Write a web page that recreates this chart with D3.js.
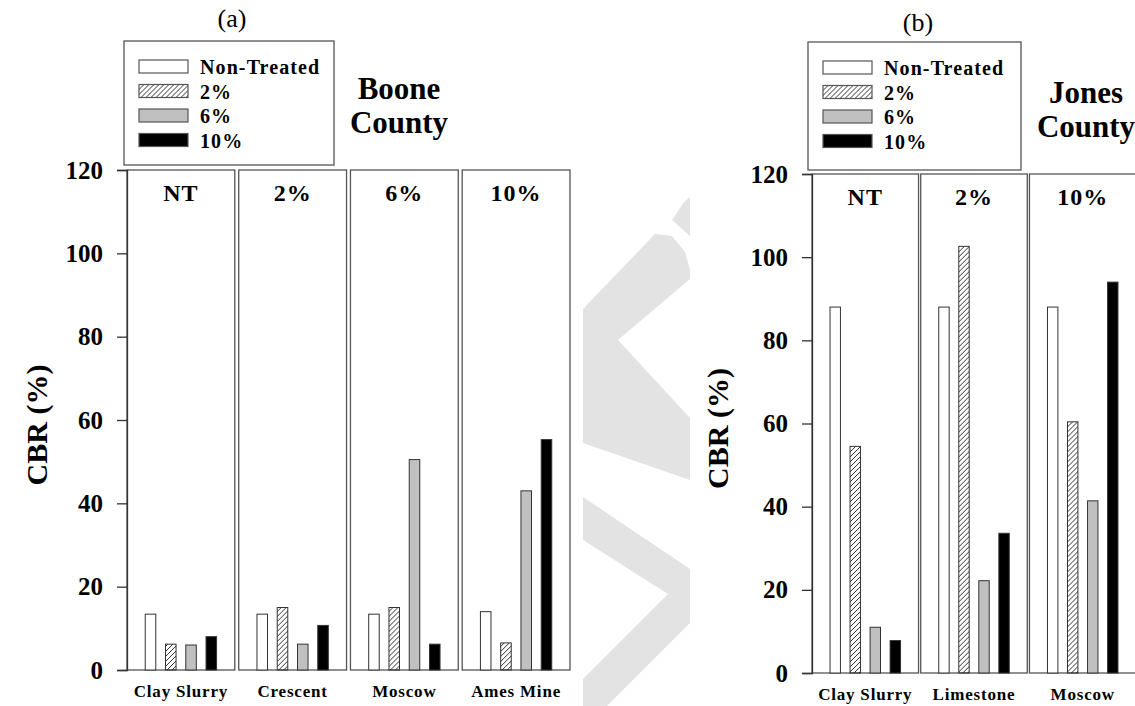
<!DOCTYPE html>
<html>
<head>
<meta charset="utf-8">
<script src="https://d3js.org/d3.v7.min.js"></script>
<style>
  body { margin: 0; background: #fff; }
  svg { display: block; }
  text { font-family: "Liberation Serif", "Times New Roman", serif; fill: #000; }
</style>
</head>
<body>
<svg id="chart" width="1135" height="706"></svg>
<script>
// treatments (series) and tick values
const treatments = ["Non-Treated", "2%", "6%", "10%"];
const yTicks = [0, 20, 40, 60, 80, 100, 120];

// (a) Boone County
const booneSoils = ["Clay Slurry", "Crescent", "Moscow", "Ames Mine"];
const booneBoxes = ["NT", "2%", "6%", "10%"];
const booneNT  = [13.4, 13.4, 13.4, 14.0];
const boone2   = [6.2, 15.0, 15.0, 6.5];
const boone6   = [6.0, 6.2, 50.5, 43.0];
const boone10  = [8.0, 10.7, 6.2, 55.3];

// (b) Jones County
const jonesSoils = ["Clay Slurry", "Limestone", "Moscow"];
const jonesBoxes = ["NT", "2%", "10%"];
const jonesNT  = [88.0, 88.0, 88.0];
const jones2   = [54.5, 102.6, 60.4];
const jones6   = [11.0, 22.2, 41.4];
const jones10  = [7.8, 33.6, 94.0];

const svg = d3.select("#chart");
svg.append("rect").attr("width", 1135).attr("height", 706).attr("fill", "#fff");

// hatch pattern for 2%
const defs = svg.append("defs");
defs.append("pattern")
    .attr("id", "hatch")
    .attr("patternUnits", "userSpaceOnUse")
    .attr("width", 5).attr("height", 5)
  .append("path")
    .attr("d", "M-1,1 l2,-2 M0,5 l5,-5 M4,6 l2,-2")
    .attr("stroke", "#000").attr("stroke-width", 0.8);

const fills = d3.scaleOrdinal(treatments, ["#fff", "url(#hatch)", "#c0c0c0", "#000"]);

// light grey watermark in the gap between the two panels
const wm = svg.append("g").attr("fill", "#e3e3e3");
[
  [[672,220],[684,202],[690,197],[690,236]],
  [[583,309],[655,234],[672,236],[685,252],[690,270],[690,279],[618,340],[690,418],[690,480],[583,443]],
  [[583,497],[690,569],[690,623],[607,706],[583,706],[583,679],[668,594],[583,540]]
].forEach(p => wm.append("path").attr("d", d3.line()(p) + "Z"));

function drawPanel(o) {
  const g = svg.append("g");
  const y = d3.scaleLinear([0, 120], [o.bottom, o.top]);
  const box = d3.scaleBand(o.soils, [o.left, o.right]).paddingInner(o.gap);
  const inner = d3.scaleBand(treatments, [0, box.bandwidth()]).paddingInner(0.48).paddingOuter(0.9);

  const series = [o.nt, o.p2, o.p6, o.p10];
  const rows = o.soils.map((s, i) => ({ soil: s, box: o.boxes[i],
      vals: treatments.map((t, j) => ({ t: t, v: series[j][i] })) }));

  // panel boxes
  g.selectAll("rect.box").data(rows).join("rect")
    .attr("class", "box")
    .attr("x", d => box(d.soil)).attr("y", o.top)
    .attr("width", box.bandwidth()).attr("height", o.bottom - o.top)
    .attr("fill", "none").attr("stroke", "#555").attr("stroke-width", 1.3);

  // bars
  const grp = g.selectAll("g.soil").data(rows).join("g")
    .attr("class", "soil")
    .attr("transform", d => `translate(${box(d.soil)},0)`);
  grp.selectAll("rect").data(d => d.vals).join("rect")
    .attr("x", d => inner(d.t))
    .attr("y", d => y(d.v))
    .attr("width", inner.bandwidth())
    .attr("height", d => y(0) - y(d.v))
    .attr("fill", d => fills(d.t))
    .attr("stroke", "#333").attr("stroke-width", 1);

  // box headings
  grp.append("text")
    .attr("x", box.bandwidth() / 2).attr("y", o.top + 31)
    .attr("text-anchor", "middle")
    .attr("font-size", 24).attr("font-weight", "bold")
    .attr("letter-spacing", 1)
    .text(d => d.box);

  // category labels
  grp.append("text")
    .attr("x", box.bandwidth() / 2).attr("y", o.bottom + o.catDy)
    .attr("text-anchor", "middle")
    .attr("font-size", 17).attr("font-weight", "bold")
    .attr("letter-spacing", 0.8)
    .text(d => d.soil);

  // y axis
  const ax = g.append("g")
    .attr("transform", `translate(${o.left},0)`)
    .call(d3.axisLeft(y).tickValues(yTicks).tickSize(10).tickPadding(14));
  ax.select(".domain").attr("stroke", "#333").attr("stroke-width", 1.3);
  ax.selectAll(".tick line").attr("stroke", "#333").attr("stroke-width", 1.3);
  ax.selectAll(".tick text")
    .attr("font-family", "Liberation Serif, serif")
    .attr("font-size", 25).attr("font-weight", "bold")
    .attr("fill", "#000");

  // y title
  g.append("text")
    .attr("transform", `translate(${o.titleX},${(o.top + o.bottom) / 2 + 5}) rotate(-90)`)
    .attr("text-anchor", "middle")
    .attr("font-size", 30).attr("font-weight", "bold")
    .text("CBR (%)");

  // panel letter
  g.append("text")
    .attr("x", o.letterX).attr("y", o.letterY)
    .attr("text-anchor", "middle").attr("font-size", 26)
    .text(o.letter);

  // legend
  const lg = g.append("g").attr("transform", `translate(${o.legX},${o.legY})`);
  lg.append("rect").attr("width", o.legW).attr("height", o.legH)
    .attr("fill", "#fff").attr("stroke", "#555").attr("stroke-width", 1.3);
  const items = lg.selectAll("g.item").data(treatments).join("g")
    .attr("class", "item")
    .attr("transform", (d, i) => `translate(15,${19 + i * 24.5})`);
  items.append("rect")
    .attr("width", 49).attr("height", 13)
    .attr("fill", d => fills(d)).attr("stroke", "#555").attr("stroke-width", 1.2);
  items.append("text")
    .attr("x", 61).attr("y", 14)
    .attr("font-size", 20).attr("font-weight", "bold").attr("letter-spacing", 1.1)
    .text(d => d);

  // county name
  g.selectAll("text.county").data(o.county).join("text")
    .attr("class", "county")
    .attr("x", o.countyX).attr("y", (d, i) => o.countyY + i * 34)
    .attr("text-anchor", "middle")
    .attr("font-size", 31).attr("font-weight", "bold")
    .text(d => d);
}

drawPanel({
  soils: booneSoils, boxes: booneBoxes,
  nt: booneNT, p2: boone2, p6: boone6, p10: boone10,
  left: 127, right: 570, gap: 0.035, top: 170, bottom: 670, catDy: 27,
  titleX: 47, letter: "(a)", letterX: 232, letterY: 27,
  legX: 124, legY: 41, legW: 210, legH: 124,
  county: ["Boone", "County"], countyX: 399, countyY: 99
});

drawPanel({
  soils: jonesSoils, boxes: jonesBoxes,
  nt: jonesNT, p2: jones2, p6: jones6, p10: jones10,
  left: 812, right: 1136, gap: 0.02, top: 174, bottom: 673, catDy: 27,
  titleX: 728, letter: "(b)", letterX: 918, letterY: 31,
  legX: 808, legY: 42, legW: 213, legH: 128,
  county: ["Jones", "County"], countyX: 1086, countyY: 103
});
</script>
</body>
</html>
